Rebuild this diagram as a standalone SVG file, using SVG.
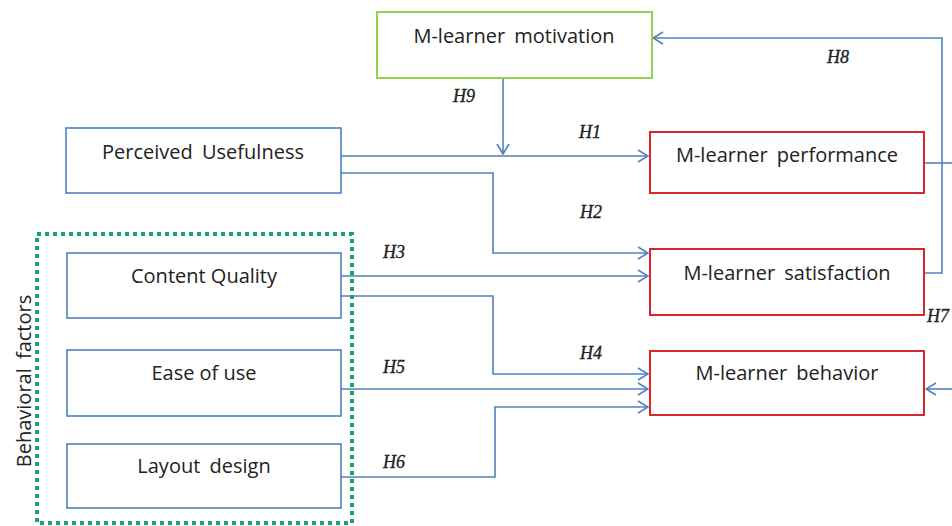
<svg xmlns="http://www.w3.org/2000/svg" width="952" height="526" viewBox="0 0 952 526">
<defs>
<marker id="arr" viewBox="0 0 12 14" refX="11" refY="7" markerWidth="12" markerHeight="14" markerUnits="userSpaceOnUse" orient="auto">
<path d="M1,1 L11,7 L1,13" fill="none" stroke="#4f81bd" stroke-width="1.6"/>
</marker>
<style>
.bx{fill:#fff;stroke:#4f81bd;stroke-width:1.6}
.rd{fill:#fff;stroke:#d9262a;stroke-width:2}
.gr{fill:#fff;stroke:#92d050;stroke-width:2}
.t{font-family:"Open Sans","Liberation Sans",sans-serif;font-size:20px;fill:#222;text-anchor:middle;word-spacing:4px}
.n{word-spacing:0}
.h{font-family:"Liberation Serif",serif;font-style:italic;font-size:18px;fill:#222;stroke:#222;stroke-width:0.35}
.c{fill:none;stroke:#4f81bd;stroke-width:1.6}
.ca{fill:none;stroke:#4f81bd;stroke-width:1.6;marker-end:url(#arr)}
</style>
</defs>
<rect width="952" height="526" fill="#fff"/>
<g id="behavioral-factors">
<rect x="37" y="234" width="315" height="289" fill="none" stroke="#16a36f" stroke-width="4" stroke-dasharray="4 4"/>
<text class="t" transform="translate(31,381) rotate(-90)">Behavioral factors</text>
</g>
<g id="connectors">
<path class="ca" d="M503,78 V154"/>
<path class="ca" d="M338,156 H648"/>
<path class="ca" d="M338,173 H493 V253 H648"/>
<path class="ca" d="M338,276 H648"/>
<path class="ca" d="M338,296 H493 V374 H648"/>
<path class="ca" d="M338,389 H648"/>
<path class="ca" d="M338,477 H495 V407 H648"/>
<path class="ca" d="M924,273 H942 V38 H653"/>
<path class="c" d="M924,163 H952"/>
<path class="ca" d="M952,389 H926"/>
</g>
<g id="motivation"><rect class="gr" x="377" y="12" width="275" height="66"/><text class="t" x="514" y="43">M-learner motivation</text></g>
<g id="usefulness"><rect class="bx" x="66" y="128" width="275" height="65"/><text class="t" x="203" y="159">Perceived Usefulness</text></g>
<g id="performance"><rect class="rd" x="650" y="132" width="274" height="61"/><text class="t" x="787" y="162">M-learner performance</text></g>
<g id="satisfaction"><rect class="rd" x="650" y="249" width="274" height="66"/><text class="t" x="787" y="280">M-learner satisfaction</text></g>
<g id="behavior"><rect class="rd" x="650" y="351" width="274" height="64"/><text class="t" x="787" y="380">M-learner behavior</text></g>
<g id="content-quality"><rect class="bx" x="67" y="253" width="274" height="65"/><text class="t n" x="204" y="283">Content Quality</text></g>
<g id="ease-of-use"><rect class="bx" x="67" y="350" width="274" height="66"/><text class="t n" x="204" y="380">Ease of use</text></g>
<g id="layout-design"><rect class="bx" x="67" y="444" width="274" height="64"/><text class="t" x="204" y="473">Layout design</text></g>
<g id="labels">
<text class="h" x="453" y="102">H9</text>
<text class="h" x="579" y="138">H1</text>
<text class="h" x="827" y="63">H8</text>
<text class="h" x="580" y="218">H2</text>
<text class="h" x="383" y="258">H3</text>
<text class="h" x="580" y="359">H4</text>
<text class="h" x="383" y="373">H5</text>
<text class="h" x="383" y="468">H6</text>
<text class="h" x="927" y="322">H7</text>
</g>
</svg>
